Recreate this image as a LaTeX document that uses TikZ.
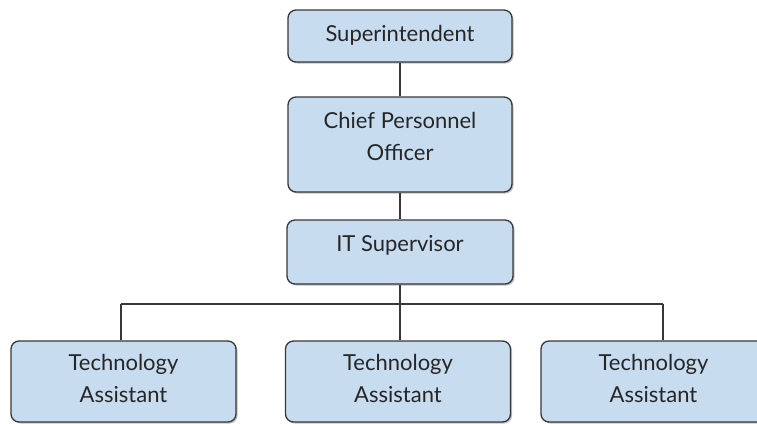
\documentclass[tikz,border=0pt]{standalone}
\usepackage{fontspec}
\setmainfont{Lato}
\usetikzlibrary{shadows}
\definecolor{boxfill}{RGB}{200,220,240}
\definecolor{edge}{RGB}{55,55,58}
\begin{document}
\begin{tikzpicture}[x=1pt,y=-1pt,
  orgbox/.style={draw=edge, line width=1.3pt, fill=boxfill, rounded corners=8pt,
    inner sep=0pt, minimum width=#1,
    drop shadow={shadow xshift=1.5pt, shadow yshift=-1.5pt, opacity=0.25, fill=black}},
  orgbox/.default=225pt,
  title/.style={anchor=base, align=center, inner sep=0pt,
    font=\fontsize{22}{32}\selectfont, text=black!85},
  link/.style={draw=edge, line width=1.3pt}]
\useasboundingbox (0,0) rectangle (757,423);

% boxes
\node[orgbox=224pt, minimum height=52pt] (sup)   at (400,36)    {};
\node[orgbox=224pt, minimum height=95pt] (chief) at (400,144.5) {};
\node[orgbox=226pt, minimum height=64pt] (it)    at (400,252)   {};
\node[orgbox, minimum height=81pt] (ta1) at (123.5,381.5) {};
\node[orgbox, minimum height=81pt] (ta2) at (398,381.5)   {};
\node[orgbox, minimum height=81pt] (ta3) at (653.5,381.5) {};

% labels (base anchor sits on the last line)
\node[title] (supT)   at (400,41)    {Superintendent};
\node[title] (chiefT) at (400,160)   {Chief Personnel\\Officer};
\node[title] (itT)    at (400,251)   {IT Supervisor};
\node[title] (ta1T)   at (123.5,402) {Technology\\Assistant};
\node[title] (ta2T)   at (398,402)   {Technology\\Assistant};
\node[title] (ta3T)   at (653.5,402) {Technology\\Assistant};

% reporting lines
\coordinate (busL) at (121,304);
\coordinate (busM) at (400,304);
\coordinate (busR) at (663,304);
\draw[link] (sup.south) -- (chief.north);
\draw[link] (chief.south) -- (it.north);
\draw[link] (it.south) -- (busM);
\draw[link] (busL) -- (busR);
\draw[link] (busL) -- (busL |- ta1.north);
\draw[link] (busM) -- (busM |- ta2.north);
\draw[link] (busR) -- (busR |- ta3.north);
\end{tikzpicture}
\end{document}
